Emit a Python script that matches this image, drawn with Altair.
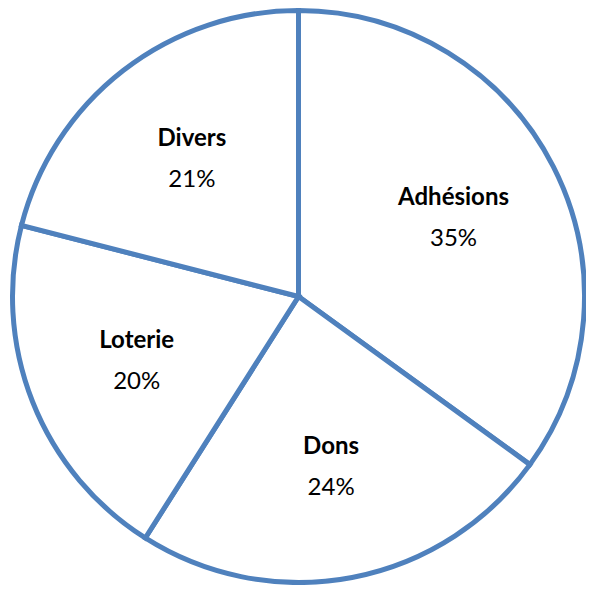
import altair as alt
import pandas as pd

categories = ["Adhésions", "Dons", "Loterie", "Divers"]
values = [35, 24, 20, 21]
order = [0, 1, 2, 3]

df = pd.DataFrame({"cat": categories, "value": values, "idx": order})

CX, CY = 290.5, 288.5
R = 286

base = alt.Chart(df).encode(
    theta=alt.Theta("value:Q", stack=True),
    order=alt.Order("idx:Q"),
)

arcs = base.mark_arc(
    fill="white", stroke="#4F81BD", strokeWidth=5, outerRadius=R
).encode(x=alt.value(CX), y=alt.value(CY))

names = base.mark_text(
    radius=174, dy=-20, font="Lato", fontSize=24, fontWeight="bold", color="black"
).encode(x=alt.value(CX), y=alt.value(CY), text="cat:N")

pcts = base.transform_calculate(pct="datum.value + '%'").mark_text(
    radius=174, dy=21, font="Lato", fontSize=24, color="black"
).encode(x=alt.value(CX), y=alt.value(CY), text="pct:N")

chart = alt.layer(arcs, names, pcts).properties(
    width=578, height=577, padding=0, autosize=alt.AutoSizeParams(type="none")
).configure_view(stroke=None)

chart.save("out.html", embed_options={"renderer": "svg", "actions": False})
